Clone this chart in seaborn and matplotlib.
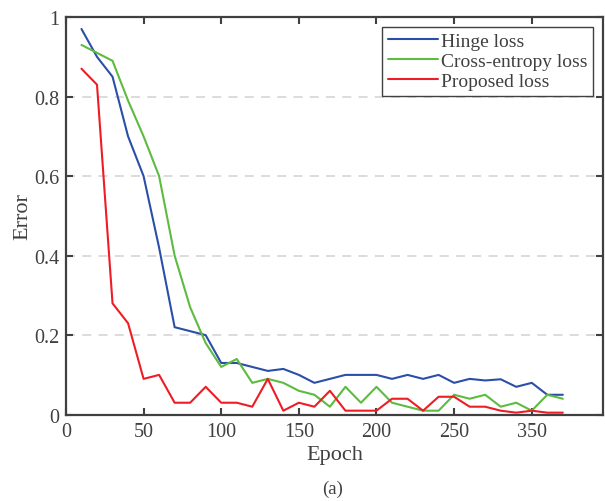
import pandas as pd
import seaborn as sns
import matplotlib.pyplot as plt

epochs = list(range(10, 330, 10))

hinge = [0.97, 0.90, 0.85, 0.70, 0.60, 0.42, 0.22, 0.21, 0.20, 0.13,
         0.13, 0.12, 0.11, 0.115, 0.10, 0.08, 0.09, 0.10, 0.10, 0.10,
         0.09, 0.10, 0.09, 0.10, 0.08, 0.09, 0.086, 0.089, 0.07, 0.08,
         0.05, 0.05]
cross_entropy = [0.93, 0.91, 0.89, 0.79, 0.70, 0.60, 0.40, 0.27, 0.18, 0.12,
                 0.14, 0.08, 0.09, 0.08, 0.06, 0.05, 0.02, 0.07, 0.03, 0.07,
                 0.03, 0.02, 0.01, 0.01, 0.05, 0.04, 0.05, 0.02, 0.03, 0.01,
                 0.05, 0.04]
proposed = [0.87, 0.83, 0.28, 0.23, 0.09, 0.10, 0.03, 0.03, 0.07, 0.03,
            0.03, 0.02, 0.09, 0.01, 0.03, 0.02, 0.06, 0.01, 0.01, 0.01,
            0.04, 0.04, 0.01, 0.045, 0.045, 0.02, 0.02, 0.01, 0.005, 0.01,
            0.005, 0.005]

series_names = ['Hinge loss', 'Cross-entropy loss', 'Proposed loss']
x_ticks = [0, 50, 100, 150, 200, 250, 300]
x_tick_labels = ['0', '50', '100', '150', '200', '250', '350']
y_ticks = [0, 0.2, 0.4, 0.6, 0.8, 1]
y_tick_labels = ['0', '0.2', '0.4', '0.6', '0.8', '1']

df = pd.DataFrame({
    'Epoch': epochs * 3,
    'Error': hinge + cross_entropy + proposed,
    'Loss': [n for n in series_names for _ in epochs],
})

sns.set_style('ticks')
plt.rcParams['font.family'] = ['Liberation Serif', 'DejaVu Serif']
plt.rcParams['axes.edgecolor'] = '#404040'

fig = plt.figure(figsize=(6.05, 5.02), dpi=100)
ax = fig.add_axes([0.109, 0.172, 0.888, 0.792])

ax.grid(axis='y', color='#d9d9d9', linestyle=(0, (5, 4)), linewidth=1.3)
ax.set_axisbelow(True)

sns.lineplot(data=df, x='Epoch', y='Error', hue='Loss',
             palette=['#2B4FA8', '#5DBB3F', '#EE1C25'],
             linewidth=1.5, ax=ax)

ax.set_xlim(0, 346)
ax.set_ylim(0, 1)
ax.set_xticks(x_ticks)
ax.set_xticklabels(x_tick_labels)
ax.set_yticks(y_ticks)
ax.set_yticklabels(y_tick_labels)
ax.tick_params(direction='in', top=True, right=True, length=5, width=1.5,
               colors='#404040', labelsize=14.5, labelcolor='#404040', pad=5)
for s in ax.spines.values():
    s.set_linewidth(1.6)
    s.set_visible(True)

ax.set_xlabel('Epoch', fontsize=16, color='#404040', labelpad=3)
ax.set_ylabel('Error', fontsize=16, color='#404040', labelpad=1)

leg = ax.legend(loc='upper right', fontsize=14, frameon=True, fancybox=False,
                edgecolor='#404040', framealpha=1, handlelength=2.6,
                handletextpad=0.15, borderpad=0.3, labelspacing=0.12,
                borderaxespad=0.5)
leg.get_frame().set_linewidth(1.0)
for t in leg.get_texts():
    t.set_color('#404040')

fig.text(0.55, 0.008, '(a)', ha='center', va='bottom', fontsize=13.5,
         color='#404040')

fig.savefig('out.png', dpi=100)
